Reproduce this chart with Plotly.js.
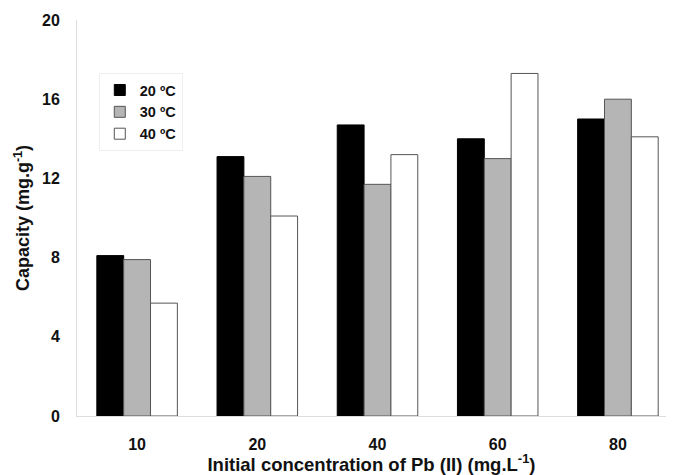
<!DOCTYPE html>
<html>
<head>
<meta charset="utf-8">
<script src="https://cdn.plot.ly/plotly-3.0.1.min.js"></script>
<style>html,body{margin:0;padding:0;background:#fff;}#chart{width:675px;height:475px;}</style>
</head>
<body>
<div id="chart"></div>
<script>
const categories = ["10", "20", "40", "60", "80"];
const seriesNames = ["20 ºC", "30 ºC", "40 ºC"];
const cap20 = [8.1, 13.1, 14.7, 14.0, 15.0];
const cap30 = [7.9, 12.1, 11.7, 13.0, 16.0];
const cap40 = [5.7, 10.1, 13.2, 17.3, 14.1];
const yTicks = [0, 4, 8, 12, 16, 20];

const fontFam = '"Liberation Sans", Arial, sans-serif';
const fills = ["#000000", "#b5b5b5", "#ffffff"];
const lines = ["#000000", "#555555", "#555555"];
const bars = [cap20, cap30, cap40].map((v, i) => ({
  type: "bar",
  name: seriesNames[i],
  x: categories,
  y: v,
  showlegend: false,
  legendgroup: "g" + i,
  marker: {color: fills[i], line: {color: lines[i], width: 1}}
}));
// legend entries with small square swatches
const keys = seriesNames.map((n, i) => ({
  type: "scatter", mode: "markers", name: n,
  x: [null], y: [null], legendgroup: "g" + i, showlegend: true,
  marker: {symbol: "square", size: 11, color: fills[i], line: {color: lines[i], width: 1}}
}));

const layout = {
  width: 675, height: 475,
  margin: {l: 77, r: 9, t: 20, b: 59},
  paper_bgcolor: "#fff", plot_bgcolor: "#fff",
  barmode: "group", bargap: 0.33, bargroupgap: 0,
  font: {family: fontFam, size: 15, color: "#111", weight: "bold"},
  showlegend: true,
  legend: {x: 0.037, y: 0.866, xanchor: "left", yanchor: "top",
    bgcolor: "rgba(255,255,255,0)", bordercolor: "#eeeeee", borderwidth: 1,
    font: {family: fontFam, size: 14.5, color: "#111", weight: "bold"},
    tracegroupgap: 0, itemwidth: 30, traceorder: "normal"},
  xaxis: {type: "category", range: [-0.5, 4.4], showline: true, linecolor: "#dddddd", linewidth: 1,
    ticks: "", showgrid: false, zeroline: false, ticklabelstandoff: 14,
    tickfont: {family: fontFam, size: 16, color: "#111", weight: "bold"},
    title: {text: "Initial concentration of Pb (II) (mg.L<sup>-1</sup>)", standoff: 4,
      font: {family: fontFam, size: 18.5, color: "#111", weight: "bold"}}},
  yaxis: {range: [0, 20], tickvals: yTicks, ticktext: yTicks.map(String), showline: true, linecolor: "#dddddd", linewidth: 1,
    ticks: "", showgrid: false, zeroline: false, ticklabelstandoff: 13,
    tickfont: {family: fontFam, size: 16, color: "#111", weight: "bold"},
    title: {text: "Capacity (mg.g<sup>-1</sup>)", standoff: 7,
      font: {family: fontFam, size: 18, color: "#111", weight: "bold"}}}
};
Plotly.newPlot("chart", bars.concat(keys), layout, {displayModeBar: false, staticPlot: true});
</script>
</body>
</html>
